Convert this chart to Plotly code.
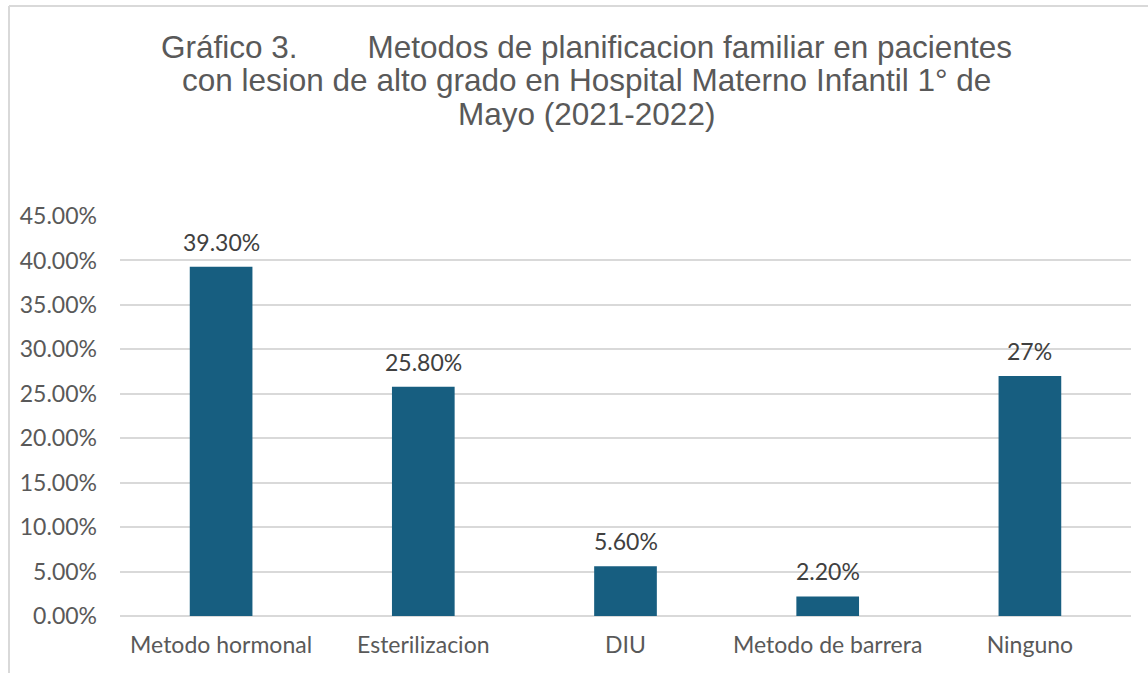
import plotly.graph_objects as go

categories = ["Metodo hormonal", "Esterilizacion", "DIU", "Metodo de barrera", "Ninguno"]
values = [0.393, 0.258, 0.056, 0.022, 0.27]
labels = ["39.30%", "25.80%", "5.60%", "2.20%", "27%"]
tick_vals = [0, 0.05, 0.10, 0.15, 0.20, 0.25, 0.30, 0.35, 0.40, 0.45]

title_lines = [
    "Gráfico 3." + "\u00a0" * 8 + "Metodos de planificacion familiar en pacientes",
    "con lesion de alto grado en Hospital Materno Infantil 1° de",
    "Mayo (2021-2022)",
]

W, H = 1148, 673
L, R, T, B = 120, 17, 216, 57
PW, PH = W - L - R, H - T - B


def px(x):
    return (x - L) / PW


def py(y):
    return (H - B - y) / PH


fig = go.Figure(go.Bar(
    x=categories, y=values,
    marker=dict(color="#175E80", line=dict(width=0)),
    hoverinfo="x+y",
))

annotations = []
for cat, val, lab in zip(categories, values, labels):
    annotations.append(dict(
        text=lab, x=cat, y=val, xref="x", yref="y",
        xanchor="center", yanchor="bottom", yshift=9, showarrow=False,
        font=dict(family="Lato", size=23, color="#404040"),
    ))
for i, line in enumerate(title_lines):
    annotations.append(dict(
        text=line, xref="paper", yref="paper",
        x=px(586), y=py(47 + 33.5 * i), xanchor="center", yanchor="middle",
        showarrow=False, align="center",
        font=dict(family="Liberation Sans", size=31.5, color="#595959"),
    ))

fig.update_layout(
    width=W, height=H,
    margin=dict(l=L, r=R, t=T, b=B),
    paper_bgcolor="white", plot_bgcolor="white",
    bargap=0.69,
    showlegend=False,
    xaxis=dict(showgrid=False, showline=False, ticks="", ticklabelstandoff=13,
               tickfont=dict(family="Lato", size=23, color="#595959")),
    yaxis=dict(range=[0, 0.45], tickvals=tick_vals, tickformat=".2%",
               showgrid=True, gridcolor="#D9D9D9", gridwidth=1.5,
               zeroline=True, zerolinecolor="#D9D9D9", zerolinewidth=1.5,
               showline=False, ticks="", ticklabelstandoff=22,
               tickfont=dict(family="Lato", size=23, color="#595959")),
    annotations=annotations,
    shapes=[
        dict(type="line", xref="paper", yref="paper",
             x0=px(9), x1=px(W + 10), y0=py(6), y1=py(6),
             line=dict(color="#D9D9D9", width=2)),
        dict(type="line", xref="paper", yref="paper",
             x0=px(9), x1=px(9), y0=py(H + 10), y1=py(6),
             line=dict(color="#D9D9D9", width=2)),
    ],
)

fig.write_html("out.html", config={"displayModeBar": False},
               post_script="document.body.style.margin='0';")
